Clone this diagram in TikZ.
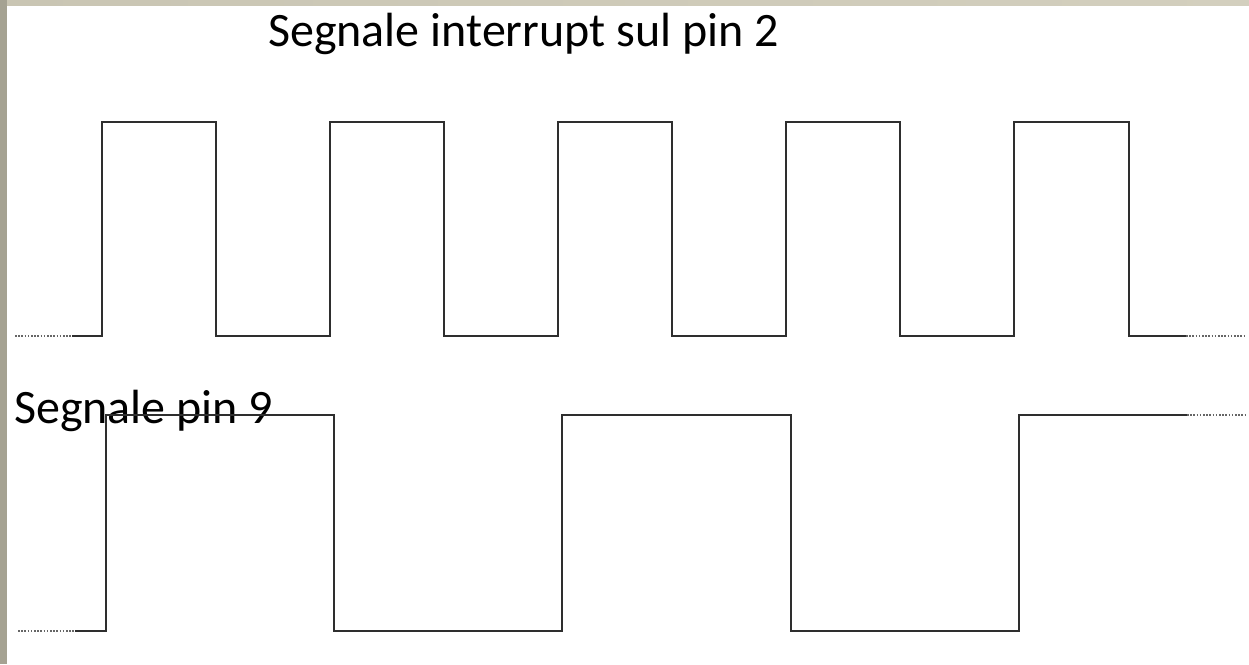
\documentclass[tikz,border=0pt]{standalone}
\usepackage{fontspec}
\setmainfont{Carlito}
\definecolor{edgeL}{HTML}{A5A292}
\definecolor{edgeT}{HTML}{D3CFBE}
\definecolor{edgeT2}{HTML}{C9C5B3}
\begin{document}
\begin{tikzpicture}[x=1pt,y=-1pt,
  sig/.style={draw=black!82, line width=2pt, line join=miter},
  dots/.style={draw=black!60, line width=1.8pt, dash pattern=on 1.6pt off 1.6pt},
  lbl/.style={font=\fontsize{48}{52}\selectfont, inner sep=0pt, anchor=base west}]
\useasboundingbox (0,0) rectangle (1249,664);
\fill[white] (0,0) rectangle (1249,664);
\shade[left color=edgeT2, right color=edgeT] (0,0) rectangle (1249,5);
\fill[edgeL] (0,0) rectangle (7,664);
% titles
\node[lbl] (t1) at (268,46) {Segnale interrupt sul pin 2};
\node[lbl] (t2) at (14,423) {Segnale pin 9};
% top waveform
\coordinate (a0) at (15,336);
\coordinate (a1) at (72,336);
\coordinate (a2) at (1186,336);
\coordinate (a3) at (1245,336);
\draw[dots] (a0) -- (a1);
\draw[dots] (a2) -- (a3);
\draw[sig] (a1) -- (102,336) -- (102,122) -- (216,122) -- (216,336)
  -- (330,336) -- (330,122) -- (444,122) -- (444,336)
  -- (558,336) -- (558,122) -- (672,122) -- (672,336)
  -- (786,336) -- (786,122) -- (900,122) -- (900,336)
  -- (1014,336) -- (1014,122) -- (1129,122) -- (1129,336) -- (a2);
% bottom waveform
\coordinate (b0) at (18,631);
\coordinate (b1) at (75,631);
\coordinate (b2) at (1187,415);
\coordinate (b3) at (1245,415);
\draw[dots] (b0) -- (b1);
\draw[dots] (b2) -- (b3);
\draw[sig] (b1) -- (106,631) -- (106,415) -- (334,415) -- (334,631)
  -- (562,631) -- (562,415) -- (791,415) -- (791,631)
  -- (1019,631) -- (1019,415) -- (b2);
\end{tikzpicture}
\end{document}
